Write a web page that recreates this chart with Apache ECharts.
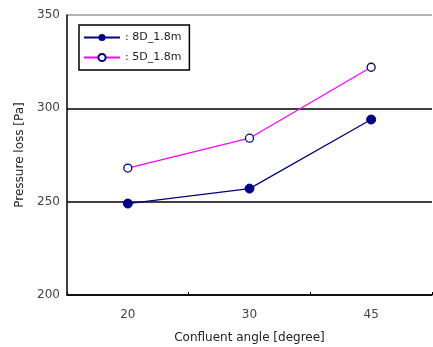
<!DOCTYPE html>
<html><head><meta charset="utf-8">
<script src="https://cdn.jsdelivr.net/npm/echarts@6/dist/echarts.min.js"></script>
<style>html,body{margin:0;padding:0;background:#fff}#c{width:433px;height:347px}</style>
</head><body><div id="c"></div>
<script>
const categories = ['20', '30', '45'];
const seriesNames = ['8D_1.8m', '5D_1.8m'];
const valuesA = [249, 257, 294];
const valuesB = [268, 284, 322];
const yTicks = [200, 250, 300, 350];

const chart = echarts.init(document.getElementById('c'));
chart.setOption({
  animation: false,
  backgroundColor: '#fff',
  grid: {left: 67, right: 1, top: 15, bottom: 52, containLabel: false, outerBoundsMode: 'none'},
  legend: {
    orient: 'vertical', left: 79, top: 25,
    itemWidth: 36, itemHeight: 9, itemGap: 9,
    padding: [7, 8, 7, 4],
    borderColor: '#000', borderWidth: 1.5,
    formatter: ': {name}',
    textStyle: {fontFamily: 'DejaVu Sans', fontSize: 11, color: '#222'},
    data: seriesNames
  },
  xAxis: {
    type: 'category', data: categories, boundaryGap: true,
    name: 'Confluent angle [degree]', nameLocation: 'middle', nameGap: 37,
    nameTextStyle: {fontFamily: 'DejaVu Sans', fontSize: 12, color: '#222'},
    axisLine: {lineStyle: {color: '#000', width: 1.5}},
    axisTick: {show: true, inside: true, length: 3, lineStyle: {color: '#000'}},
    axisLabel: {fontFamily: 'DejaVu Sans', fontSize: 12, color: '#444', margin: 14}
  },
  yAxis: {
    type: 'value', min: yTicks[0], max: yTicks[yTicks.length - 1], interval: 50,
    name: 'Pressure loss [Pa]', nameLocation: 'middle', nameGap: 35,
    nameTextStyle: {fontFamily: 'DejaVu Sans', fontSize: 12, color: '#222'},
    axisLine: {show: true, lineStyle: {color: '#000', width: 1.5}},
    axisTick: {show: false},
    axisLabel: {fontFamily: 'DejaVu Sans', fontSize: 12, color: '#444', margin: 7},
    splitLine: {show: true, lineStyle: {color: ['#000', '#000', '#000', '#999'], width: 1.5}}
  },
  series: [
    {
      name: seriesNames[0], type: 'line', data: valuesA,
      symbol: 'circle', symbolSize: 9,
      itemStyle: {color: '#000080', borderColor: '#000080'},
      lineStyle: {color: '#000080', width: 1.3}
    },
    {
      name: seriesNames[1], type: 'line', data: valuesB,
      symbol: 'circle', symbolSize: 8,
      itemStyle: {color: '#fff', borderColor: '#000080', borderWidth: 1.3},
      lineStyle: {color: '#ff00ff', width: 1.3}
    }
  ]
});
</script></body></html>
